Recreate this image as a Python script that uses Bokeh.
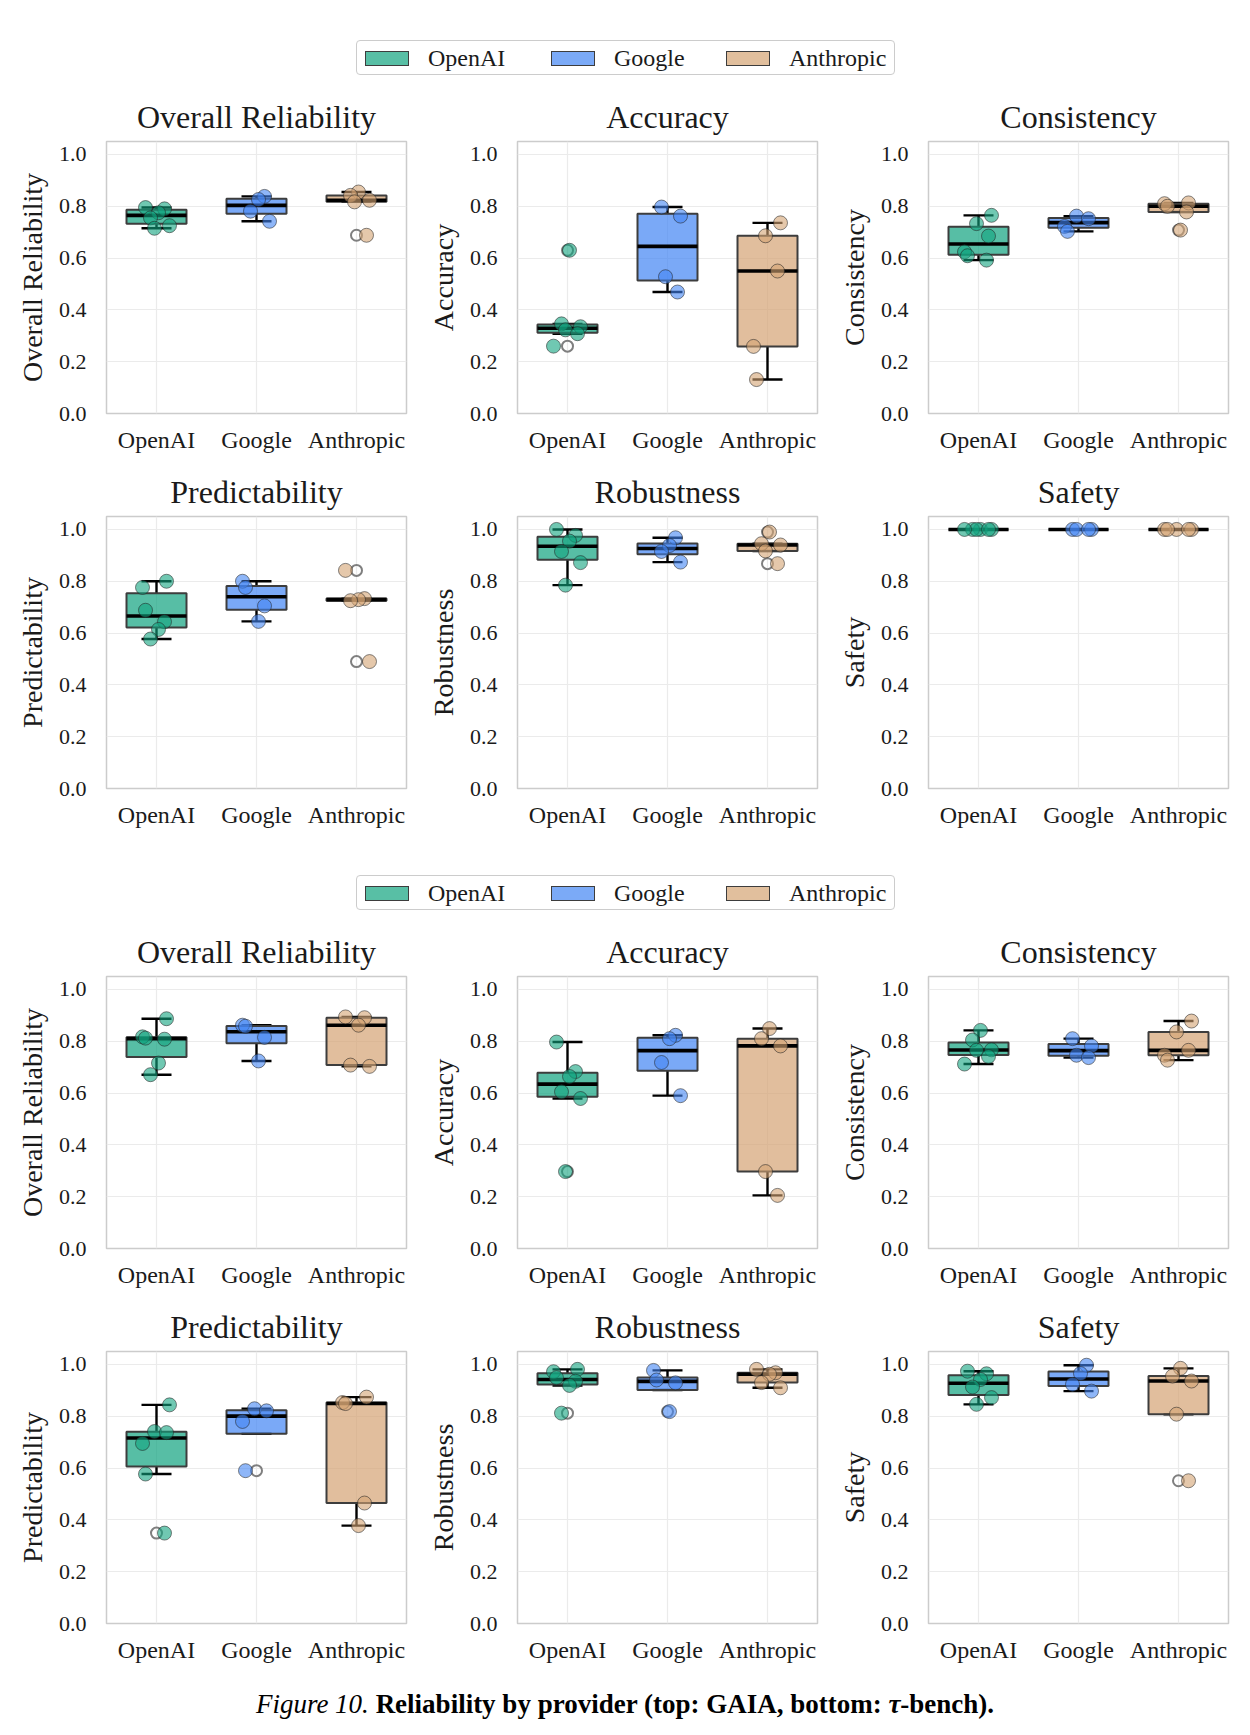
import numpy as np
from bokeh.plotting import figure
from bokeh.layouts import column, row
from bokeh.models import Range1d, FixedTicker, Div
from bokeh.embed import file_html
from bokeh.resources import INLINE

PROVIDERS = ["OpenAI", "Google", "Anthropic"]
COLORS = ["#10A37F", "#4285F4", "#D4A373"]
METRICS = ["Overall Reliability", "Accuracy", "Consistency",
           "Predictability", "Robustness", "Safety"]
Y_TICKS = [0.0, 0.2, 0.4, 0.6, 0.8, 1.0]
CAPTION_LEAD = "Figure 10."
CAPTION_BODY = "Reliability by provider (top: GAIA, bottom: "
CAPTION_TAIL = "-bench)."

# ---------------- GAIA (top) ----------------
gaia_overall = {"OpenAI": [0.795, 0.790, 0.775, 0.755, 0.725, 0.715],
                "Google": [0.838, 0.826, 0.781, 0.742],
                "Anthropic": [0.855, 0.842, 0.823, 0.817, 0.688]}
gaia_accuracy = {"OpenAI": [0.630, 0.346, 0.335, 0.323, 0.308, 0.260],
                 "Google": [0.797, 0.762, 0.528, 0.469],
                 "Anthropic": [0.736, 0.686, 0.550, 0.259, 0.131]}
gaia_consistency = {"OpenAI": [0.765, 0.733, 0.685, 0.624, 0.609, 0.592],
                    "Google": [0.762, 0.752, 0.722, 0.703],
                    "Anthropic": [0.813, 0.810, 0.800, 0.778, 0.708]}
gaia_predictability = {"OpenAI": [0.800, 0.776, 0.688, 0.644, 0.614, 0.577],
                       "Google": [0.800, 0.776, 0.705, 0.645],
                       "Anthropic": [0.842, 0.733, 0.729, 0.725, 0.490]}
gaia_robustness = {"OpenAI": [1.000, 0.977, 0.955, 0.915, 0.872, 0.785],
                   "Google": [0.968, 0.938, 0.915, 0.874],
                   "Anthropic": [0.990, 0.945, 0.940, 0.917, 0.868]}
gaia_safety = {"OpenAI": [1.0, 1.0, 1.0, 1.0, 1.0, 1.0],
               "Google": [1.0, 1.0, 1.0, 1.0],
               "Anthropic": [1.0, 1.0, 1.0, 1.0, 1.0]}

# ---------------- tau-bench (bottom) ----------------
tau_overall = {"OpenAI": [0.887, 0.817, 0.812, 0.808, 0.716, 0.671],
               "Google": [0.862, 0.858, 0.815, 0.724],
               "Anthropic": [0.894, 0.891, 0.862, 0.708, 0.703]}
tau_accuracy = {"OpenAI": [0.797, 0.683, 0.664, 0.605, 0.579, 0.297],
                "Google": [0.823, 0.810, 0.718, 0.590],
                "Anthropic": [0.849, 0.810, 0.782, 0.297, 0.205]}
tau_consistency = {"OpenAI": [0.842, 0.805, 0.767, 0.765, 0.741, 0.712],
                   "Google": [0.810, 0.782, 0.746, 0.737],
                   "Anthropic": [0.878, 0.836, 0.765, 0.746, 0.727]}
tau_predictability = {"OpenAI": [0.844, 0.741, 0.737, 0.695, 0.577, 0.349],
                      "Google": [0.829, 0.821, 0.780, 0.590],
                      "Anthropic": [0.874, 0.853, 0.849, 0.465, 0.378]}
tau_robustness = {"OpenAI": [0.981, 0.972, 0.949, 0.935, 0.919, 0.812],
                  "Google": [0.977, 0.940, 0.929, 0.818],
                  "Anthropic": [0.981, 0.968, 0.962, 0.930, 0.910]}
tau_safety = {"OpenAI": [0.974, 0.964, 0.942, 0.913, 0.872, 0.846],
              "Google": [0.997, 0.965, 0.923, 0.897],
              "Anthropic": [0.985, 0.955, 0.936, 0.808, 0.551]}

GAIA = [gaia_overall, gaia_accuracy, gaia_consistency,
        gaia_predictability, gaia_robustness, gaia_safety]
TAU = [tau_overall, tau_accuracy, tau_consistency,
       tau_predictability, tau_robustness, tau_safety]

# style constants
FONT = "Liberation Serif"
TEXT_COLOR = "#1a1a1a"
JITTER = [-0.11, 0.08, 0.02, -0.06, 0.13, -0.02, 0.10, -0.14]


def blend(hex_color, alpha):
    h = hex_color.lstrip("#")
    rgb = [int(h[i:i + 2], 16) for i in (0, 2, 4)]
    out = [round(alpha * c + (1 - alpha) * 255) for c in rgb]
    return "#%02x%02x%02x" % tuple(out)


def panel(title, data, k):
    p = figure(width=411, height=375, x_range=Range1d(-0.5, 2.5),
               y_range=Range1d(0, 1.05), output_backend="svg",
               toolbar_location=None, min_border_left=106,
               min_border_right=5, min_border_top=56, min_border_bottom=47,
               title=title)
    p.background_fill_color = "white"
    p.border_fill_color = "white"
    p.outline_line_color = "#cccccc"
    p.outline_line_width = 1.5
    p.title.text_font = FONT
    p.title.text_font_size = "32px"
    p.title.text_font_style = "normal"
    p.title.text_color = TEXT_COLOR
    p.title.align = "center"
    p.title.standoff = 13

    p.xaxis.ticker = FixedTicker(ticks=[0, 1, 2])
    p.xaxis.major_label_overrides = {i: name for i, name in enumerate(PROVIDERS)}
    p.yaxis.ticker = FixedTicker(ticks=Y_TICKS)
    p.yaxis.major_label_overrides = {v: "%.1f" % v for v in Y_TICKS}
    p.yaxis.axis_label = title
    for ax in (p.xaxis[0], p.yaxis[0]):
        ax.axis_line_color = None
        ax.major_tick_line_color = None
        ax.minor_tick_line_color = None
        ax.major_label_text_font = FONT
        ax.major_label_text_color = TEXT_COLOR
    p.yaxis.major_label_text_font_size = "22px"
    p.yaxis.major_label_standoff = 14
    p.xaxis.major_label_text_font_size = "24px"
    p.xaxis.major_label_standoff = 7
    p.yaxis.axis_label_text_font = FONT
    p.yaxis.axis_label_text_font_size = "28px"
    p.yaxis.axis_label_text_font_style = "normal"
    p.yaxis.axis_label_text_color = TEXT_COLOR
    p.yaxis.axis_label_standoff = 8
    p.grid.grid_line_color = "#ebebeb"
    p.grid.grid_line_width = 1.2

    for i, prov in enumerate(PROVIDERS):
        vals = np.array(data[prov], dtype=float)
        q1, med, q3 = np.percentile(vals, [25, 50, 75])
        iqr = q3 - q1
        lo_f, hi_f = q1 - 1.5 * iqr, q3 + 1.5 * iqr
        inside = vals[(vals >= lo_f) & (vals <= hi_f)]
        wlo = min(inside.min(), q1)
        whi = max(inside.max(), q3)
        fl = vals[(vals < wlo) | (vals > whi)]
        # whiskers + caps
        p.segment(x0=[i, i], y0=[q3, q1], x1=[i, i], y1=[whi, wlo],
                  line_color="black", line_width=2.4)
        p.segment(x0=[i - 0.15, i - 0.15], y0=[whi, wlo],
                  x1=[i + 0.15, i + 0.15], y1=[whi, wlo],
                  line_color="black", line_width=2.4)
        # box
        p.quad(left=[i - 0.3], right=[i + 0.3], bottom=[q1], top=[q3],
               fill_color=COLORS[i], fill_alpha=0.7,
               line_color="#3d3d3d", line_width=2)
        # median
        p.segment(x0=[i - 0.3], y0=[med], x1=[i + 0.3], y1=[med],
                  line_color="black", line_width=3.6)
        # fliers
        if len(fl):
            p.scatter(x=[i] * len(fl), y=fl, size=11, fill_color=None,
                      line_color="#7f7f7f", line_width=2)
        # jittered points
        xs = [i + JITTER[(j + 2 * k + i) % len(JITTER)] for j in range(len(vals))]
        p.scatter(x=xs, y=vals, size=14, fill_color=COLORS[i], fill_alpha=0.6,
                  line_color="#222222", line_alpha=0.55, line_width=1)
    return p


def legend_div():
    items = [(365, 428), (551, 614), (726, 789)]
    parts = ['<div style="position:relative;width:1250px;height:85px;'
             'font-family:\'%s\',serif;color:%s;">' % (FONT, TEXT_COLOR),
             '<div style="position:absolute;left:356px;top:40px;width:539px;'
             'height:35px;border:1.5px solid #cccccc;border-radius:4px;"></div>']
    for (px, tx), name, col in zip(items, PROVIDERS, COLORS):
        parts.append('<div style="position:absolute;left:%dpx;top:51px;width:44px;'
                     'height:15px;background:%s;border:1px solid #3d3d3d;'
                     'box-sizing:border-box;"></div>' % (px, blend(col, 0.7)))
        parts.append('<div style="position:absolute;left:%dpx;top:45px;'
                     'font-size:24px;line-height:26px;white-space:nowrap;">%s</div>'
                     % (tx, name))
    parts.append('</div>')
    return Div(text="".join(parts), width=1250, height=85, margin=(0, 0, 0, 0))


def caption_div():
    html = ('<div style="width:1250px;height:74px;position:relative;'
            'font-family:\'%s\',serif;color:#000;">'
            '<div style="position:absolute;left:0;top:19px;width:1250px;'
            'text-align:center;font-size:27px;line-height:30px;white-space:nowrap;">'
            '<i>%s</i> <b>%s<i>&tau;</i>%s</b></div></div>'
            % (FONT, CAPTION_LEAD, CAPTION_BODY, CAPTION_TAIL))
    return Div(text=html, width=1250, height=74, margin=(0, 0, 0, 0))


def grid_rows(datasets, base):
    figs = [panel(METRICS[m], datasets[m], base + m) for m in range(6)]
    return [row(figs[0:3], spacing=0), row(figs[3:6], spacing=0)]


layout = column([legend_div()] + grid_rows(GAIA, 0) + [legend_div()]
                + grid_rows(TAU, 3) + [caption_div()], spacing=0)

open("out.html", "w").write(file_html(layout, INLINE))
